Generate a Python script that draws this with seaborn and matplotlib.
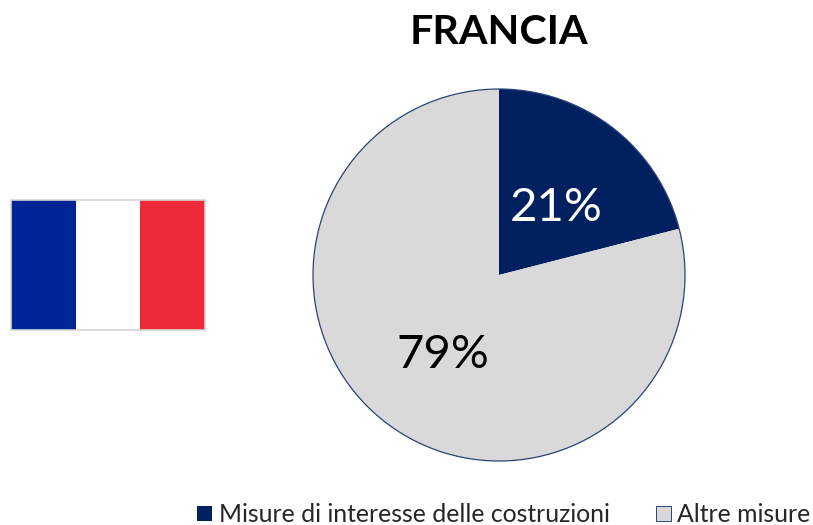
import matplotlib
matplotlib.use("Agg")
import matplotlib.pyplot as plt
from matplotlib.patches import Rectangle
import seaborn as sns

sns.set_theme(style="white")
plt.rcParams['font.family'] = ['Lato', 'DejaVu Sans']

title = "FRANCIA"
labels = ["Misure di interesse delle costruzioni", "Altre misure"]
values = [21, 79]
pct_labels = ["21%", "79%"]
colors = ["#00205F", "#D9D9D9"]
flag_colors = ["#002395", "#FFFFFF", "#EF2B3A"]

W, H = 813, 525
fig = plt.figure(figsize=(W/100, H/100), dpi=100, facecolor="white")

R = 186
ax = fig.add_axes([(499-R-2)/W, 1-(275+R+2)/H, (2*R+4)/W, (2*R+4)/H])
wedges, _ = ax.pie(values, colors=colors, startangle=90, counterclock=False, radius=1,
                   wedgeprops=dict(linewidth=0))
ax.set_xlim(-(R+2)/R, (R+2)/R)
ax.set_ylim(-(R+2)/R, (R+2)/R)
ax.set_aspect("equal")
ax.add_patch(plt.Circle((0, 0), 1, fill=False, ec="#2A4478", lw=0.9))
ax.axis("off")

def fx(x): return x/W
def fy(y): return 1-y/H

fig.text(fx(499), fy(29), title, ha="center", va="center_baseline", fontsize=29.7, fontweight="bold", color="black")
fig.text(fx(556), fy(204), pct_labels[0], ha="center", va="center_baseline", fontsize=34, color="white")
fig.text(fx(443), fy(351), pct_labels[1], ha="center", va="center_baseline", fontsize=34, color="black")

fx0, fw = 11, 194
fy0, fh = 200, 130
for i, c in enumerate(flag_colors):
    fig.add_artist(Rectangle((fx(fx0+i*fw/3), fy(fy0+fh)), fw/3/W, fh/H, transform=fig.transFigure,
                             fc=c, ec="none"))
fig.add_artist(Rectangle((fx(fx0), fy(fy0+fh)), fw/W, fh/H, transform=fig.transFigure,
                         fc="none", ec="#D6D6D6", lw=1.2))

fig.add_artist(Rectangle((fx(197), fy(521)), 15/W, 15/H, transform=fig.transFigure, fc=colors[0], ec="none"))
fig.text(fx(219), fy(513), labels[0], ha="left", va="center_baseline", fontsize=17.8, color="#262626")
fig.add_artist(Rectangle((fx(656), fy(521)), 15/W, 15/H, transform=fig.transFigure, fc=colors[1], ec="#2A4478", lw=0.7))
fig.text(fx(677), fy(513), labels[1], ha="left", va="center_baseline", fontsize=17.8, color="#262626")

fig.savefig("out.png", dpi=100, facecolor="white")
